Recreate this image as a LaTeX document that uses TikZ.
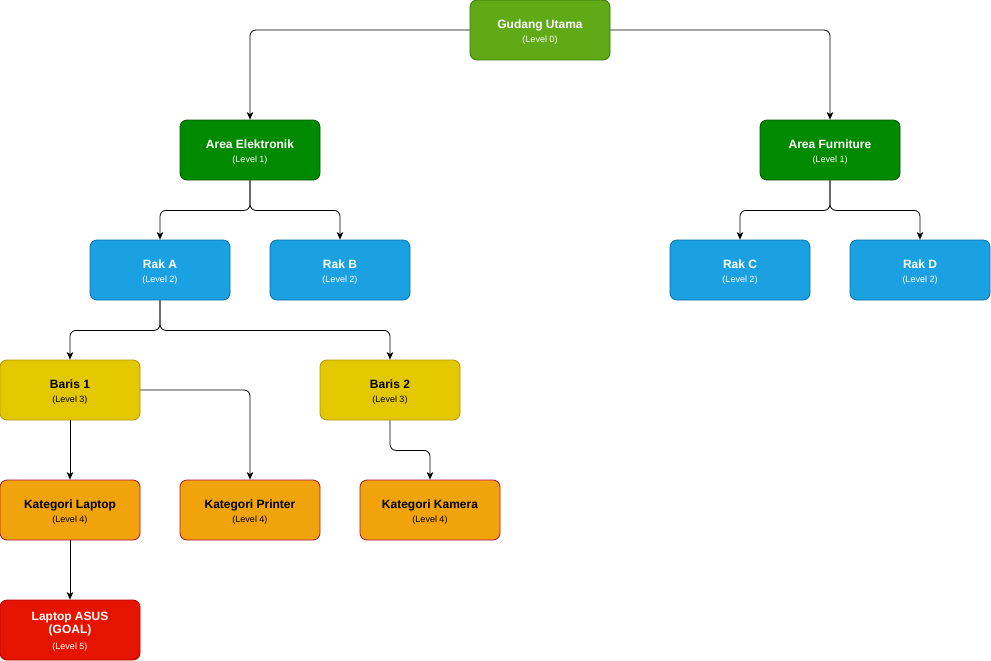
\documentclass[tikz,border=0pt]{standalone}
\usepackage{fontspec}
\setmainfont{Liberation Sans}
\usetikzlibrary{arrows.meta}
\definecolor{g0f}{HTML}{60A917}\definecolor{g0d}{HTML}{2D7600}
\definecolor{g1f}{HTML}{008A00}\definecolor{g1d}{HTML}{005700}
\definecolor{bf}{HTML}{1BA1E2}\definecolor{bd}{HTML}{006EAF}
\definecolor{yf}{HTML}{E3C800}\definecolor{yd}{HTML}{B09500}
\definecolor{of}{HTML}{F0A30A}\definecolor{od}{HTML}{B0103A}
\definecolor{rf}{HTML}{E51400}\definecolor{rd}{HTML}{B20000}
\newcommand{\ttl}[1]{\rule{0pt}{12.5pt}{\bfseries\fontsize{12}{14}\selectfont #1}}
\newcommand{\ttlb}[1]{{\bfseries\fontsize{12}{14}\selectfont #1}}
\newcommand{\lvl}[1]{{\fontsize{9}{10}\selectfont #1}}
\tikzset{
  box/.style={draw, line width=0.8pt, rounded corners=7pt, minimum width=140pt, minimum height=60pt, align=center, inner sep=0pt},
  lv0/.style={box, fill=g0f, draw=g0d, text=white},
  lv1/.style={box, fill=g1f, draw=g1d, text=white},
  lv2/.style={box, fill=bf, draw=bd, text=white},
  lv3/.style={box, fill=yf, draw=yd, text=black},
  lv4/.style={box, fill=of, draw=od, text=black},
  lv5/.style={box, fill=rf, draw=rd, text=white},
  conn/.style={draw=black, line width=0.8pt, rounded corners=6pt, -{Stealth[length=7.5pt,width=6.5pt,inset=2pt]}}
}
\begin{document}
\begin{tikzpicture}[x=1pt,y=-1pt]
\useasboundingbox (0,0) rectangle (991,661);
\node[lv0] (g) at (540,30) {\ttl{Gudang Utama}\\[2pt]\lvl{(Level 0)}};
\node[lv1] (ae) at (250,150) {\ttl{Area Elektronik}\\[2pt]\lvl{(Level 1)}};
\node[lv1] (af) at (830,150) {\ttl{Area Furniture}\\[2pt]\lvl{(Level 1)}};
\node[lv2] (ra) at (160,270) {\ttl{Rak A}\\[2pt]\lvl{(Level 2)}};
\node[lv2] (rb) at (340,270) {\ttl{Rak B}\\[2pt]\lvl{(Level 2)}};
\node[lv2] (rc) at (740,270) {\ttl{Rak C}\\[2pt]\lvl{(Level 2)}};
\node[lv2] (rdd) at (920,270) {\ttl{Rak D}\\[2pt]\lvl{(Level 2)}};
\node[lv3] (b1) at (70,390) {\ttl{Baris 1}\\[2pt]\lvl{(Level 3)}};
\node[lv3] (b2) at (390,390) {\ttl{Baris 2}\\[2pt]\lvl{(Level 3)}};
\node[lv4] (kl) at (70,510) {\ttl{Kategori Laptop}\\[2pt]\lvl{(Level 4)}};
\node[lv4] (kp) at (250,510) {\ttl{Kategori Printer}\\[2pt]\lvl{(Level 4)}};
\node[lv4] (kk) at (430,510) {\ttl{Kategori Kamera}\\[2pt]\lvl{(Level 4)}};
\node[lv5] (la) at (70,630) {\rule{0pt}{11pt}\ttlb{Laptop ASUS}\\[1.5pt]\ttlb{(GOAL)}\\[3.5pt]\lvl{(Level 5)}};
\draw[conn] (g.west) -| (ae.north);
\draw[conn] (g.east) -| (af.north);
\draw[conn] (ae.south) -- ++(0,30) -| (ra.north);
\draw[conn] (ae.south) -- ++(0,30) -| (rb.north);
\draw[conn] (af.south) -- ++(0,30) -| (rc.north);
\draw[conn] (af.south) -- ++(0,30) -| (rdd.north);
\draw[conn] (ra.south) -- ++(0,30) -| (b1.north);
\draw[conn] (ra.south) -- ++(0,30) -| (b2.north);
\draw[conn] (b1.south) -- (kl.north);
\draw[conn] (b1.east) -| (kp.north);
\draw[conn] (b2.south) -- ++(0,30) -| (kk.north);
\draw[conn] (kl.south) -- (la.north);
\end{tikzpicture}
\end{document}
